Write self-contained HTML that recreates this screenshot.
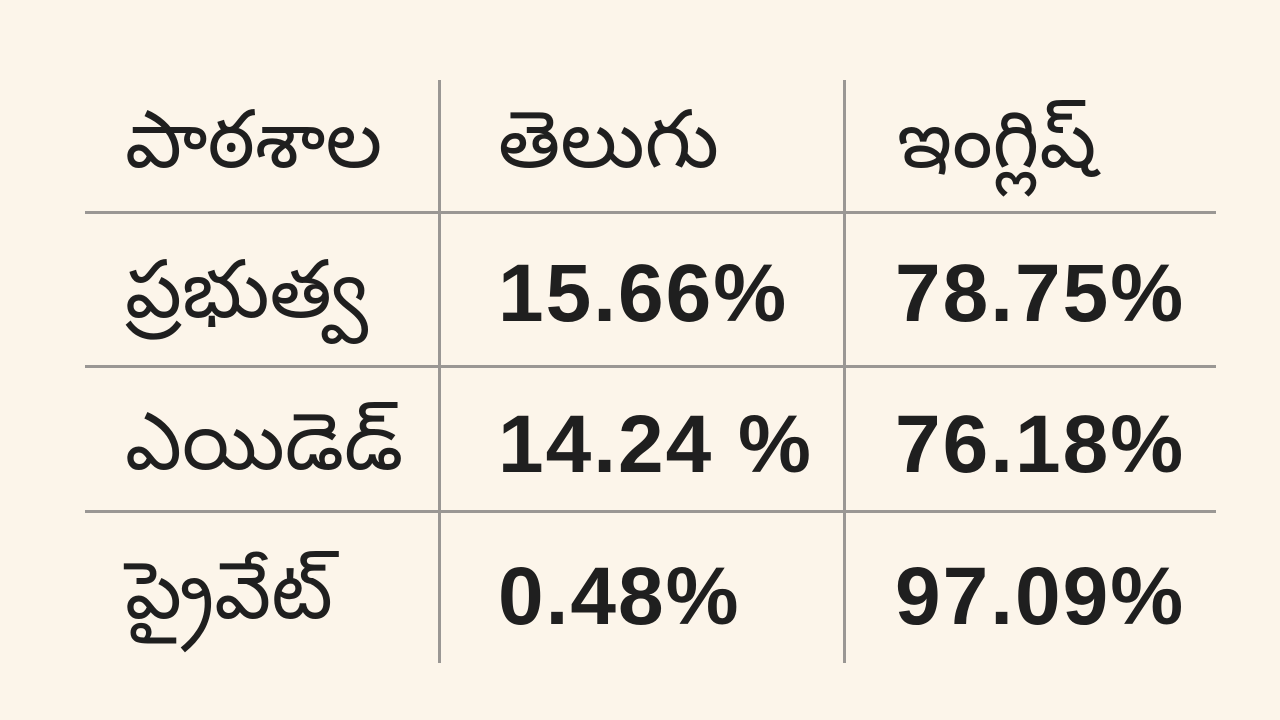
<!DOCTYPE html>
<html><head><meta charset="utf-8"><style>
html,body{margin:0;padding:0;}
body{width:1280px;height:720px;background:#fcf5ea;position:relative;overflow:hidden;font-family:"Liberation Sans","DejaVu Sans",sans-serif;color:#1f1f1f;}
.v{position:absolute;width:3px;background:#9a9794;top:80px;height:583px;}
.h{position:absolute;height:3px;background:#9a9794;left:85px;width:1131px;}
.t{position:absolute;font-size:80px;line-height:1;white-space:nowrap;}
.n{position:absolute;font-size:82px;font-weight:bold;line-height:1;white-space:nowrap;letter-spacing:2px;}
</style></head><body>
<div class="v" style="left:438px"></div>
<div class="v" style="left:843px"></div>
<div class="h" style="top:211px"></div>
<div class="h" style="top:365px"></div>
<div class="h" style="top:510px"></div>

<div class="t" style="left:125px;top:100px">పాఠశాల</div>
<div class="t" style="left:498px;top:100px">తెలుగు</div>
<div class="t" style="left:897px;top:100px">ఇంగ్లిష్</div>

<div class="t" style="left:125px;top:250px">ప్రభుత్వ</div>
<div class="n" style="left:498px;top:253px">15.66%</div>
<div class="n" style="left:895px;top:253px">78.75%</div>

<div class="t" style="left:125px;top:402px">ఎయిడెడ్</div>
<div class="n" style="left:498px;top:404px">14.24 %</div>
<div class="n" style="left:895px;top:404px">76.18%</div>

<div class="t" style="left:125px;top:551px">ప్రైవేట్</div>
<div class="n" style="left:498px;top:556px">0.48%</div>
<div class="n" style="left:895px;top:556px">97.09%</div>
</body></html>
